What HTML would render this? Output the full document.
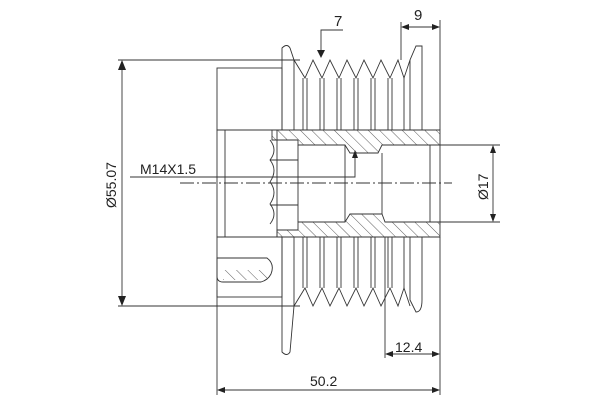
<!DOCTYPE html><html><head><style>body{margin:0;background:#fff}svg{display:block}text{font-family:"Liberation Sans",sans-serif;fill:#222}</style></head><body>
<svg width="600" height="400" viewBox="0 0 600 400" xmlns="http://www.w3.org/2000/svg">
<defs><pattern id="h" width="8" height="8" patternUnits="userSpaceOnUse" patternTransform="rotate(-45)"><line x1="0" y1="0" x2="0" y2="8" stroke="#333" stroke-width="0.8"/></pattern></defs>
<g stroke="#333" stroke-width="0.9" fill="none">
<line x1="118" y1="60" x2="300" y2="60"/><line x1="118" y1="306" x2="300" y2="306"/>
<line x1="122" y1="62" x2="122" y2="304"/>
<line x1="217" y1="290" x2="217" y2="395"/><line x1="440" y1="237" x2="440" y2="395"/>
<line x1="440" y1="20" x2="440" y2="130"/><line x1="401" y1="22" x2="401" y2="60"/>
<line x1="403" y1="27" x2="438" y2="27"/>
<line x1="385" y1="237" x2="385" y2="358"/>
<line x1="387" y1="354" x2="438" y2="354"/>
<line x1="219" y1="390" x2="438" y2="390"/>
<line x1="440" y1="145" x2="500" y2="145"/><line x1="440" y1="222" x2="500" y2="222"/>
<line x1="493" y1="147" x2="493" y2="220"/>
<polyline points="343,30 321,30 321,55"/>
<polyline points="130,177 355,177 355,152"/>
<line x1="180" y1="183" x2="452" y2="183" stroke-dasharray="14,3,2,3"/>
<rect x="217" y="68" width="65" height="62"/>
<rect x="217" y="130" width="60" height="107"/>
<rect x="217" y="237" width="65" height="60"/>
<line x1="225" y1="130" x2="225" y2="237"/>
<path d="M270 140 q8 10 0 20 q8 10 0 22 q8 10 0 22 q8 10 0 20"/>
<line x1="270" y1="160" x2="298" y2="160"/><line x1="270" y1="205" x2="298" y2="205"/>
<path d="M217 258 h50 q8 6 4 16 q-3 6 -10 8 h-38 q-6 0 -6 -6z"/>
<rect x="223" y="270" width="44" height="10" fill="url(#h)" stroke="none"/>
<path d="M282 130 V48 q5 -5 8 0 L294 60 V130"/>
<path d="M282 237 V352 q5 5 8 0 L294 306 V237"/>
<path d="M410 130 V60 l6 -14 h6 V130"/>
<path d="M410 237 V300 l6 12 q6 0 6 -12 V237"/>
<path d="M294 60 L305 78 L313 60 L322 78 L330 60 L339 78 L347 60 L356 78 L364 60 L373 78 L381 60 L390 78 L398 60 L404 78 L410 60"/>
<path d="M294 306 L305 288 L313 306 L322 288 L330 306 L339 288 L347 306 L356 288 L364 306 L373 288 L381 306 L390 288 L398 306 L404 288 L410 306"/>
<g>
<line x1="303" y1="78" x2="303" y2="130"/><line x1="307" y1="78" x2="307" y2="130"/>
<line x1="320" y1="78" x2="320" y2="130"/><line x1="324" y1="78" x2="324" y2="130"/>
<line x1="337" y1="78" x2="337" y2="130"/><line x1="341" y1="78" x2="341" y2="130"/>
<line x1="354" y1="78" x2="354" y2="130"/><line x1="358" y1="78" x2="358" y2="130"/>
<line x1="371" y1="78" x2="371" y2="130"/><line x1="375" y1="78" x2="375" y2="130"/>
<line x1="388" y1="78" x2="388" y2="130"/><line x1="392" y1="78" x2="392" y2="130"/>
<line x1="404" y1="78" x2="404" y2="130"/>
<line x1="303" y1="237" x2="303" y2="288"/><line x1="307" y1="237" x2="307" y2="288"/>
<line x1="320" y1="237" x2="320" y2="288"/><line x1="324" y1="237" x2="324" y2="288"/>
<line x1="337" y1="237" x2="337" y2="288"/><line x1="341" y1="237" x2="341" y2="288"/>
<line x1="354" y1="237" x2="354" y2="288"/><line x1="358" y1="237" x2="358" y2="288"/>
<line x1="371" y1="237" x2="371" y2="288"/><line x1="375" y1="237" x2="375" y2="288"/>
<line x1="388" y1="237" x2="388" y2="288"/><line x1="392" y1="237" x2="392" y2="288"/>
<line x1="404" y1="237" x2="404" y2="288"/>
</g>
<path d="M272 130 H440 V145 H382 L378 153 H350 L345 145 H298 V140 H272Z" fill="url(#h)"/>
<path d="M277 237 H440 V222 H385 L382 214 H350 L345 222 H298 V230 H277Z" fill="url(#h)"/>
<line x1="345" y1="145" x2="345" y2="222"/><line x1="382" y1="153" x2="382" y2="214"/>
<line x1="298" y1="145" x2="298" y2="222"/><line x1="430" y1="145" x2="430" y2="222"/>
<line x1="440" y1="145" x2="440" y2="222"/>
</g>
<g fill="#222">
<polygon points="122,60 118,70 126,70"/><polygon points="122,306 118,296 126,296"/>
<polygon points="321,58 317,50 325,50"/>
<polygon points="401,27 409,24 409,30"/><polygon points="440,27 432,24 432,30"/>
<polygon points="385,354 393,351 393,357"/><polygon points="440,354 432,351 432,357"/>
<polygon points="217,390 225,387 225,393"/><polygon points="440,390 432,387 432,393"/>
<polygon points="355,150 352,158 358,158"/>
<polygon points="493,145 490,153 496,153"/><polygon points="493,222 490,214 496,214"/>
</g>
<text x="334" y="26" font-size="15">7</text>
<text x="414" y="20" font-size="15">9</text>
<text x="140" y="174" font-size="14">M14X1.5</text>
<text x="395" y="352" font-size="14">12.4</text>
<text x="310" y="386" font-size="14">50.2</text>
<text transform="translate(116,208) rotate(-90)" font-size="14">Ø55.07</text>
<text transform="translate(488,200) rotate(-90)" font-size="14">Ø17</text>
</svg>
</body></html>
